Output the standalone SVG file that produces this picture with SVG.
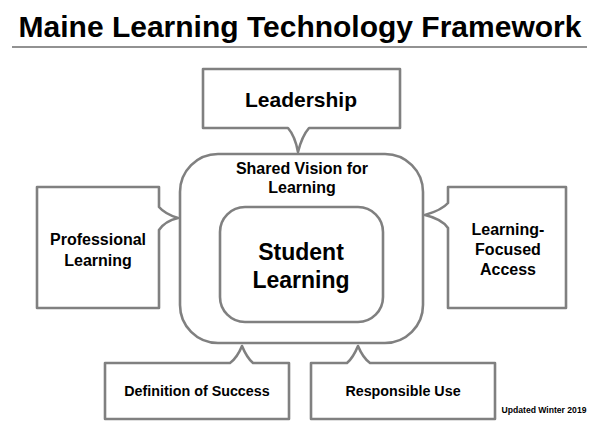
<svg xmlns="http://www.w3.org/2000/svg" width="600" height="430" viewBox="0 0 600 430">
<style>
.box{fill:#fff;stroke:#808080;stroke-width:2.6;stroke-linejoin:round;stroke-linecap:round}
.t{font-family:"Liberation Sans",Arial,sans-serif;font-weight:bold;fill:#000;text-anchor:middle}
</style>
<rect width="600" height="430" fill="#fff"/>
<g id="title">
<text class="t" x="300" y="37" font-size="30">Maine Learning Technology Framework</text>
<line x1="12" y1="47" x2="587" y2="47" stroke="#6e6e6e" stroke-width="1.5"/>
</g>
<g id="shared-vision">
<rect class="box" x="180" y="154" width="243" height="189" rx="38"/>
<text class="t" x="302" y="174" font-size="16">Shared Vision for</text>
<text class="t" x="302" y="193" font-size="16">Learning</text>
</g>
<g id="student-learning">
<rect class="box" x="220" y="207" width="163" height="115" rx="25"/>
<text class="t" x="301" y="260" font-size="23">Student</text>
<text class="t" x="301" y="288" font-size="23">Learning</text>
</g>
<g id="connectors">
</g>
<g id="leadership">
<path class="box" d="M203,69 H400 V128 H309 Q302,136 298,152 Q295,136 288,128 H203 Z"/>
<text class="t" x="301" y="107" font-size="21">Leadership</text>
</g>
<g id="professional-learning">
<path class="box" d="M37,187 H159 V207 Q165,214 178,218 Q165,221 159,230 V308 H37 Z"/>
<text class="t" x="98" y="245" font-size="16">Professional</text>
<text class="t" x="98" y="266" font-size="16">Learning</text>
</g>
<g id="learning-focused-access">
<path class="box" d="M448,187 H566 V308 H448 V228 Q442,219 425,215 Q442,210 448,203 Z"/>
<text class="t" x="508" y="235" font-size="16">Learning-</text>
<text class="t" x="508" y="255" font-size="16">Focused</text>
<text class="t" x="508" y="275" font-size="16">Access</text>
</g>
<g id="definition-of-success">
<path class="box" d="M105,363 H230 Q237,358 242,346 Q247,358 253,363 H289 V419 H105 Z"/>
<text class="t" x="197" y="396" font-size="14.3">Definition of Success</text>
</g>
<g id="responsible-use">
<path class="box" d="M311,363 H347 Q353,358 358,346 Q363,358 370,363 H495 V419 H311 Z"/>
<text class="t" x="403" y="396" font-size="14.3">Responsible Use</text>
</g>
<text class="t" x="544" y="413" font-size="8.6">Updated Winter 2019</text>
</svg>
